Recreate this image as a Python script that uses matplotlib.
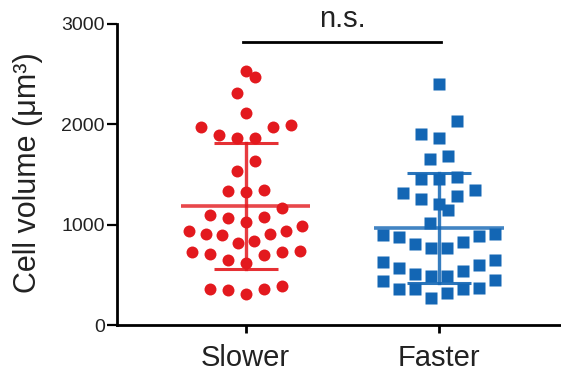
import numpy as np
import matplotlib
matplotlib.use("Agg")
import matplotlib.pyplot as plt

plt.rcParams['font.family'] = ['Liberation Sans', 'DejaVu Sans']

# Cell volumes (um^3)
groups = ["Slower", "Faster"]
slower = [2535, 2476, 2310, 2110, 1977, 1994, 1971, 1894, 1861, 1861,
          1635, 1535, 1346, 1329, 1339, 1170, 1097, 1070, 1024, 1080,
          941, 904, 897, 821, 841, 904, 937, 987,
          731, 708, 648, 621, 698, 725, 741,
          389, 356, 309, 349, 359]
faster = [2403, 2034, 1901, 1867, 1652, 1685, 1459, 1459, 1472, 1346,
          1286, 1319, 1259, 1203, 1147, 1020, 897, 881, 887, 907,
          804, 764, 764, 824, 648, 598, 541, 489, 489, 631,
          508, 565, 442, 448, 356, 356, 356, 366, 272, 322]
colors = ["#E3191E", "#1366B4"]
markers = ["o", "s"]
yticks = [0, 1000, 2000, 3000]
sig_label = "n.s."


def scatter_offsets(values, row_height=180, step=0.093, max_half=0.29):
    # Prism-like scatter: bin values into rows, spread each row around the centre
    vals = np.asarray(values, dtype=float)
    order = np.argsort(vals)
    offs = np.zeros(len(vals))
    i = 0
    while i < len(order):
        start = vals[order[i]]
        row = [order[i]]
        j = i + 1
        while j < len(order) and vals[order[j]] - start <= row_height:
            row.append(order[j])
            j += 1
        n = len(row)
        s = step if n < 2 else min(step, 2 * max_half / (n - 1))
        if n % 2:
            slots = [0]
            for k in range(1, n // 2 + 1):
                slots += [-k, k]
        else:
            slots = []
            for k in range(n // 2):
                slots += [-(k + 0.5), k + 0.5]
        for idx, sl in zip(row, slots):
            offs[idx] = sl * s
        i = j
    return offs


fig = plt.figure(figsize=(5.61, 3.8), dpi=100)
ax = fig.add_axes([116.7 / 561, 1 - 325 / 380, 1 - 116.7 / 561, 301 / 380])

for gi, (vals, c, m) in enumerate(zip([slower, faster], colors, markers)):
    x = gi + scatter_offsets(vals)
    ax.plot(x, vals, linestyle="none", marker=m, ms=8.6, mfc=c, mec="none",
            zorder=2, clip_on=False)
    mean = np.mean(vals)
    sd = np.std(vals, ddof=1)
    ax.plot([gi - 0.335, gi + 0.335], [mean, mean], color=c, lw=2.6,
            alpha=0.8, zorder=3, solid_capstyle="butt")
    ax.plot([gi, gi], [mean - sd, mean + sd], color=c, lw=2.4, alpha=0.85,
            zorder=3)
    for y in (mean - sd, mean + sd):
        ax.plot([gi - 0.165, gi + 0.165], [y, y], color=c, lw=2.2, alpha=0.9,
                zorder=3, solid_capstyle="butt")

# significance bar
ax.plot([-0.012, 1.007], [2825, 2825], color="black", lw=2, clip_on=False)
ax.text(0.5, 2975, sig_label, ha="center", va="baseline", fontsize=21,
        color="#222222", clip_on=False)

ax.set_xlim(-0.666, 1.629)
ax.set_ylim(0, 3000)
ax.set_yticks(yticks)
ax.set_xticks(range(len(groups)))
ax.set_xticklabels(groups, fontsize=21, color="#222222")
ax.tick_params(axis="y", labelsize=14, length=7, width=1.6, pad=1.5,
               labelcolor="#222222")
ax.tick_params(axis="x", length=6, width=2, pad=8)
for side in ("top", "right"):
    ax.spines[side].set_visible(False)
for side in ("left", "bottom"):
    ax.spines[side].set_linewidth(2)

fig.text(28 / 561, 1 - 173 / 380, "Cell volume (μm³)", rotation=90,
         ha="center", va="center", fontsize=22, color="#222222")

fig.savefig("out.png", dpi=100)
